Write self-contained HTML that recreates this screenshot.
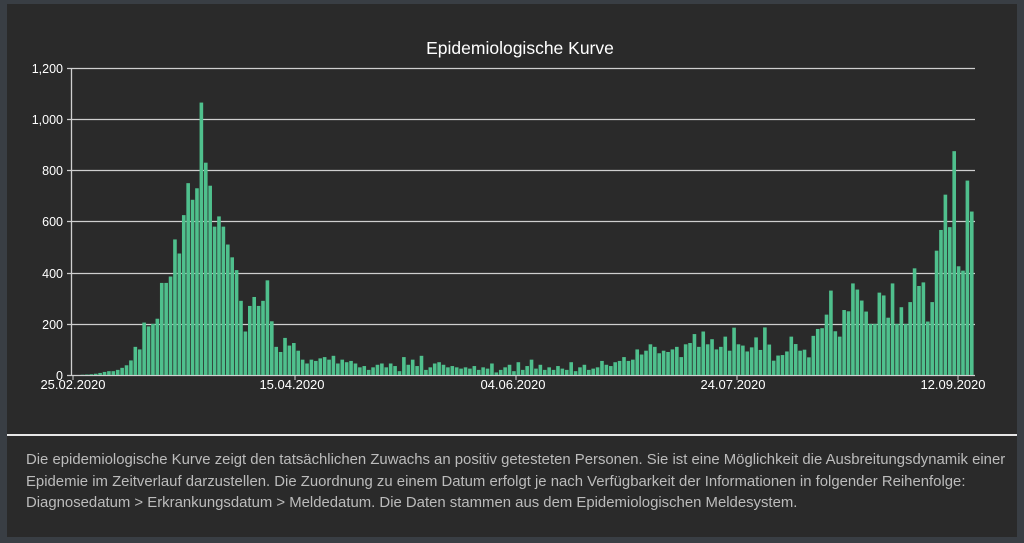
<!DOCTYPE html>
<html><head><meta charset="utf-8"><style>
html,body{margin:0;padding:0;width:1024px;height:543px;background:#393e44;overflow:hidden;font-family:"Liberation Sans",sans-serif}
#panel{position:absolute;left:7px;top:4px;width:1010px;height:533px;background:#2a2a2a}
#sep{position:absolute;left:7px;top:434px;width:1010px;height:2px;background:#e6e6e6}
#txt{position:absolute;left:26px;top:450px;width:985px;color:#bcbcbc;font-size:14.9px;line-height:21.5px}
svg{position:absolute;left:0;top:0}
</style></head><body>
<div id="panel"></div>
<svg width="1024" height="543" id="s">
<text x="520" y="54" fill="#fff" font-size="17.5" text-anchor="middle" font-family="Liberation Sans, sans-serif">Epidemiologische Kurve</text>
<g stroke="#cfcfcf" stroke-width="1.3">
<line x1="67" y1="68.5" x2="975" y2="68.5"/>
<line x1="67" y1="119.5" x2="975" y2="119.5"/>
<line x1="67" y1="170.5" x2="975" y2="170.5"/>
<line x1="67" y1="221.5" x2="975" y2="221.5"/>
<line x1="67" y1="273.5" x2="975" y2="273.5"/>
<line x1="67" y1="324.5" x2="975" y2="324.5"/>
<line x1="67" y1="375.5" x2="975" y2="375.5"/>
<line x1="71.5" y1="68" x2="71.5" y2="375"/>
</g>
<g fill="#fff" font-size="12.5" text-anchor="end" font-family="Liberation Sans, sans-serif">
<text x="63" y="73">1,200</text><text x="63" y="124">1,000</text><text x="63" y="175">800</text>
<text x="63" y="226">600</text><text x="63" y="278">400</text><text x="63" y="329">200</text><text x="63" y="380">0</text>
</g>
<g id="bars" fill="#4fc08d"></g>
<g stroke="#cfcfcf" stroke-width="1">
<line x1="73" y1="375" x2="73" y2="380"/><line x1="295" y1="375" x2="295" y2="380"/><line x1="516" y1="375" x2="516" y2="380"/><line x1="737" y1="375" x2="737" y2="380"/><line x1="958" y1="375" x2="958" y2="380"/>
</g>
<g fill="#fff" font-size="13" text-anchor="middle" font-family="Liberation Sans, sans-serif">
<text x="73" y="389">25.02.2020</text><text x="292" y="389">15.04.2020</text><text x="513" y="389">04.06.2020</text><text x="733" y="389">24.07.2020</text><text x="953" y="389">12.09.2020</text>
</g>
</svg>
<div id="sep"></div>
<div id="txt">Die epidemiologische Kurve zeigt den tatsächlichen Zuwachs an positiv getesteten Personen. Sie ist eine Möglichkeit die Ausbreitungsdynamik einer Epidemie im Zeitverlauf darzustellen. Die Zuordnung zu einem Datum erfolgt je nach Verfügbarkeit der Informationen in folgender Reihenfolge: Diagnosedatum &gt; Erkrankungsdatum &gt; Meldedatum. Die Daten stammen aus dem Epidemiologischen Meldesystem.</div>
<script>
var d=[0,0,1,2,3,5,8,12,15,15,20,28,38,57,110,100,205,190,200,220,360,360,385,530,475,625,750,685,730,1065,830,740,580,620,580,510,460,410,290,170,270,305,270,290,370,210,110,90,145,115,125,95,60,45,60,
55,65,70,60,75,45,60,50,55,45,30,35,20,30,40,45,30,45,35,15,70,
40,60,35,75,20,30,45,50,40,30,35,30,25,30,25,35,20,30,25,45,10,20,30,40,15,
50,20,35,60,25,40,20,30,20,35,25,20,50,15,30,40,20,25,30,55,
40,35,50,55,70,55,60,100,80,95,120,110,85,95,90,100,110,70,120,125,160,110,170,120,140,100,110,150,95,185,120,
115,92,108,147,98,186,119,56,76,78,92,150,121,95,99,69,153,180,183,236,330,171,150,254,249,358,334,291,248,200,200,322,311,224,358,200,265,200,285,417,348,362,209,285,486,567,705,578,875,425,408,760,639];
var g=document.getElementById('bars'),w=(974-71.5)/d.length,s='';
for(var i=0;i<d.length;i++){var h=d[i]*0.2558;s+='<rect x="'+(71.5+i*w+0.4).toFixed(2)+'" y="'+(375-h).toFixed(2)+'" width="'+(w-0.8).toFixed(2)+'" height="'+h.toFixed(2)+'"/>';}
g.innerHTML=s;
</script>
</body></html>
